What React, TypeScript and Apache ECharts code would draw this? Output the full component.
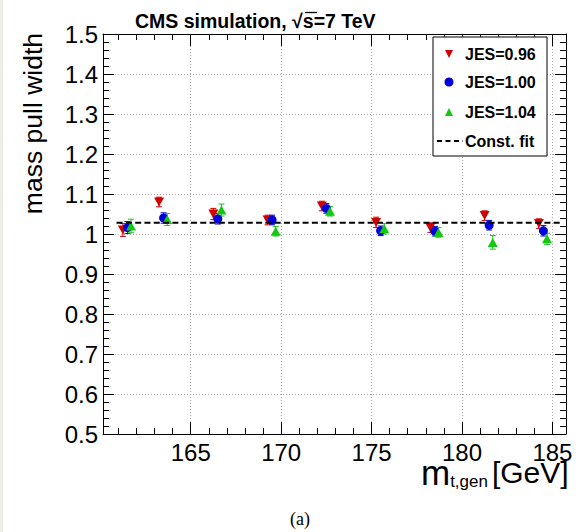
import React, { useEffect, useRef } from "react";
import * as echarts from "echarts";

// ---- data ----
const masses = [161.5, 163.5, 166.5, 169.5, 172.5, 175.5, 178.5, 181.5, 184.5];
const jes096 = [1.01, 1.08, 1.05, 1.035, 1.07, 1.029, 1.016, 1.046, 1.026];
const err096 = [0.016, 0.012, 0.014, 0.012, 0.012, 0.013, 0.012, 0.012, 0.012];
const jes100 = [1.016, 1.04, 1.038, 1.035, 1.064, 1.008, 1.007, 1.022, 1.008];
const err100 = [0.015, 0.013, 0.013, 0.012, 0.012, 0.012, 0.012, 0.012, 0.013];
const jes104 = [1.02, 1.036, 1.06, 1.007, 1.057, 1.013, 1.004, 0.979, 0.988];
const err104 = [0.017, 0.015, 0.015, 0.012, 0.012, 0.013, 0.012, 0.017, 0.014];
const fitValue = 1.028;
const fitRange = [160.9, 185.4];
const xMajorTicks = [165, 170, 175, 180, 185];
const xMinorTicks = [161, 162, 163, 164, 166, 167, 168, 169, 171, 172, 173, 174, 176, 177, 178, 179, 181, 182, 183, 184];
const seriesNames = ["JES=0.96", "JES=1.00", "JES=1.04", "Const. fit"];

const XMIN = 160.15;
const XMAX = 185.75;
const FONT = "Liberation Sans, Arial, Helvetica, sans-serif";
const RED = "#d00000";
const BLUE = "#0000dd";
const GREEN = "#12c812";

export default function App() {
  const ref = useRef<HTMLDivElement>(null);
  useEffect(() => {
    if (!ref.current) return;
    const chart = echarts.init(ref.current, null, { renderer: "svg" });

    const groups = [
      { name: seriesNames[0], vals: jes096, errs: err096, off: -0.25, color: RED, symbol: "triangle", rotate: 180, size: [10, 9] },
      { name: seriesNames[1], vals: jes100, errs: err100, off: 0, color: BLUE, symbol: "circle", rotate: 0, size: 9 },
      { name: seriesNames[2], vals: jes104, errs: err104, off: 0.2, color: GREEN, symbol: "triangle", rotate: 0, size: [10, 9] },
    ];

    const series: any[] = [
      {
        name: seriesNames[3],
        type: "line",
        xAxisIndex: 0,
        yAxisIndex: 0,
        data: [[fitRange[0], fitValue], [fitRange[1], fitValue]],
        symbol: "none",
        lineStyle: { color: "#000", width: 2, type: [6, 3.3] },
        itemStyle: { color: "#000" },
      },
    ];

    groups.forEach((g) => {
      const pts = masses.map((m, i) => [m + g.off, g.vals[i], g.errs[i]]);
      series.push({
        name: g.name + " err",
        type: "custom",
        xAxisIndex: 0,
        yAxisIndex: 0,
        data: pts,
        renderItem: (params: any, api: any) => {
          const x = api.value(0);
          const y = api.value(1);
          const e = api.value(2);
          const top = api.coord([x, y + e]);
          const bot = api.coord([x, y - e]);
          const cap = 3;
          const st = { stroke: g.color, lineWidth: 1 };
          return {
            type: "group",
            children: [
              { type: "line", shape: { x1: top[0], y1: top[1], x2: bot[0], y2: bot[1] }, style: st },
              { type: "line", shape: { x1: top[0] - cap, y1: top[1], x2: top[0] + cap, y2: top[1] }, style: st },
              { type: "line", shape: { x1: bot[0] - cap, y1: bot[1], x2: bot[0] + cap, y2: bot[1] }, style: st },
            ],
          };
        },
      });
      series.push({
        name: g.name,
        type: "scatter",
        xAxisIndex: 0,
        yAxisIndex: 0,
        data: pts.map((p) => [p[0], p[1]]),
        symbol: g.symbol,
        symbolRotate: g.rotate,
        symbolSize: g.size,
        itemStyle: { color: g.color, opacity: 1 },
      });
    });

    const tickLine = { color: "#000", width: 1 };
    const grid = { left: 103, top: 34, width: 463, height: 400 };

    const legendX = 433;
    const legendY = 37;
    const rowY = [54, 82, 112, 141];
    const legendFont = `bold 16px ${FONT}`;

    const option: any = {
      animation: false,
      backgroundColor: "#fff",
      grid: { ...grid, containLabel: false, outerBoundsMode: "none" },
      xAxis: [
        {
          type: "value",
          position: "bottom",
          min: XMIN,
          max: XMAX,
          axisLine: { show: true, onZero: false, lineStyle: tickLine },
          axisTick: { show: true, inside: true, length: 12, customValues: xMajorTicks, lineStyle: tickLine },
          axisLabel: { show: true, customValues: xMajorTicks, fontSize: 24, color: "#000", fontFamily: FONT, margin: 6 },
          splitLine: { show: true, lineStyle: { color: "#aaa", width: 1, type: [1, 2] } },
        },
        {
          type: "value",
          position: "bottom",
          min: XMIN,
          max: XMAX,
          axisLine: { show: false },
          axisTick: { show: true, inside: true, length: 6, customValues: xMinorTicks, lineStyle: tickLine },
          axisLabel: { show: false },
          splitLine: { show: false },
        },
        {
          type: "value",
          position: "top",
          min: XMIN,
          max: XMAX,
          axisLine: { show: true, onZero: false, lineStyle: tickLine },
          axisTick: { show: true, inside: true, length: 12, customValues: xMajorTicks, lineStyle: tickLine },
          axisLabel: { show: false },
          splitLine: { show: false },
        },
        {
          type: "value",
          position: "top",
          min: XMIN,
          max: XMAX,
          axisLine: { show: false },
          axisTick: { show: true, inside: true, length: 6, customValues: xMinorTicks, lineStyle: tickLine },
          axisLabel: { show: false },
          splitLine: { show: false },
        },
      ],
      yAxis: [
        {
          type: "value",
          position: "left",
          min: 0.5,
          max: 1.5,
          interval: 0.1,
          axisLine: { show: true, onZero: false, lineStyle: tickLine },
          axisTick: { show: true, inside: true, length: 11, lineStyle: tickLine },
          minorTick: { show: true, splitNumber: 5, length: 6, lineStyle: tickLine },
          axisLabel: {
            show: true,
            fontSize: 24,
            color: "#000",
            fontFamily: FONT,
            margin: 5,
            formatter: (v: number) => String(+v.toFixed(1)),
          },
          splitLine: { show: true, lineStyle: { color: "#aaa", width: 1, type: [1, 2] } },
        },
        {
          type: "value",
          position: "right",
          min: 0.5,
          max: 1.5,
          interval: 0.1,
          axisLine: { show: true, onZero: false, lineStyle: tickLine },
          axisTick: { show: true, inside: true, length: 11, lineStyle: tickLine },
          minorTick: { show: true, splitNumber: 5, length: 6, lineStyle: tickLine },
          axisLabel: { show: false },
          splitLine: { show: false },
        },
      ],
      graphic: [
        { type: "rect", left: 0, top: 0, shape: { x: 0, y: 0, width: 3, height: 532 }, style: { fill: "#efeee6" } },
        {
          type: "text",
          x: 135,
          y: 21,
          style: { text: "CMS simulation, √s=7 TeV", font: `bold 19.5px ${FONT}`, fill: "#000", verticalAlign: "middle", align: "left" },
        },
        {
          type: "line",
          shape: { x1: 305, y1: 12.5, x2: 317, y2: 12.5 },
          style: { stroke: "#000", lineWidth: 1.3 },
        },
        {
          type: "text",
          x: 33,
          y: 33,
          rotation: Math.PI / 2,
          style: { text: "mass pull width", font: `26.5px ${FONT}`, fill: "#000", align: "right", verticalAlign: "middle" },
        },
        {
          type: "text",
          x: 421,
          y: 472,
          style: {
            text: "{m|m}{s|t,gen}{g|[GeV]}",
            align: "left",
            verticalAlign: "middle",
            fill: "#000",
            rich: {
              m: { fontSize: 35, fontFamily: FONT, lineHeight: 36, verticalAlign: "middle", fill: "#000" },
              s: { fontSize: 17, fontFamily: FONT, lineHeight: 15, verticalAlign: "bottom", padding: [0, 4, 0, 0], fill: "#000" },
              g: { fontSize: 30, fontFamily: FONT, lineHeight: 36, verticalAlign: "middle", fill: "#000" },
            },
          },
        },
        { type: "text", x: 300, y: 519, style: { text: "(a)", font: `18px Liberation Serif, serif`, fill: "#000", align: "center", verticalAlign: "middle" } },
        // legend
        {
          type: "rect",
          shape: { x: legendX, y: legendY, width: 114, height: 119 },
          style: { fill: "#fff", stroke: "#000", lineWidth: 1 },
          z: 100,
        },
        {
          type: "polygon",
          shape: { points: [[445, rowY[0] - 4], [453, rowY[0] - 4], [449, rowY[0] + 4]] },
          style: { fill: RED },
          z: 101,
        },
        { type: "circle", shape: { cx: 449, cy: rowY[1], r: 4.5 }, style: { fill: BLUE }, z: 101 },
        {
          type: "polygon",
          shape: { points: [[445, rowY[2] + 4], [453, rowY[2] + 4], [449, rowY[2] - 4]] },
          style: { fill: GREEN },
          z: 101,
        },
        {
          type: "line",
          shape: { x1: 437, y1: rowY[3], x2: 463, y2: rowY[3] },
          style: { stroke: "#000", lineWidth: 2, lineDash: [5, 3.5] },
          z: 101,
        },
        ...seriesNames.map((n, i) => ({
          type: "text",
          x: 465,
          y: rowY[i],
          z: 101,
          style: { text: n, font: legendFont, fill: "#000", align: "left", verticalAlign: "middle" },
        })),
      ],
      series,
    };

    chart.setOption(option);
    return () => chart.dispose();
  }, []);

  return (
    <div
      ref={ref}
      style={{ position: "absolute", left: 0, top: 0, width: 586, height: 532, background: "#fff" }}
    />
  );
}
